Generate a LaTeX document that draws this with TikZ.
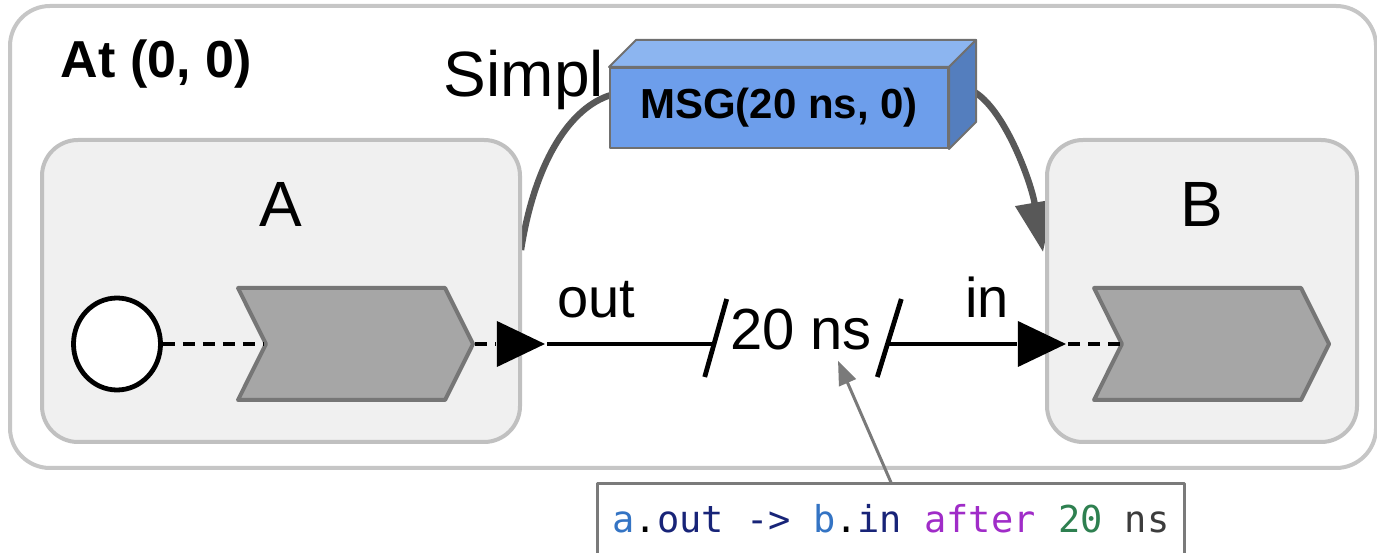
\documentclass[tikz,border=0pt]{standalone}
\usepackage{fontspec}
\setmainfont{Liberation Sans}
\newfontfamily\codefont{DejaVu Sans Mono}
\usetikzlibrary{arrows.meta,calc,shapes.geometric,shapes.symbols}
\definecolor{lfframec}{RGB}{198,198,198}
\definecolor{lfboxc}{RGB}{240,240,240}
\definecolor{lfboxedgec}{RGB}{192,192,192}
\definecolor{lfchevc}{RGB}{166,166,166}
\definecolor{lfchevedgec}{RGB}{118,118,118}
\definecolor{lffrontc}{RGB}{109,158,235}
\definecolor{lftopc}{RGB}{140,181,240}
\definecolor{lfsidec}{RGB}{84,126,190}
\definecolor{lfmsgedgec}{RGB}{112,112,112}
\definecolor{lfflowc}{RGB}{88,88,88}
\definecolor{lfpointerc}{RGB}{122,122,122}
\definecolor{lfidc}{RGB}{52,116,196}
\definecolor{lfportc}{RGB}{24,36,120}
\definecolor{lfkeyc}{RGB}{160,44,200}
\definecolor{lfnumc}{RGB}{46,128,80}
\definecolor{lfunitc}{RGB}{60,60,60}
\pgfdeclarelayer{lfback}
\pgfdeclarelayer{lfflowlayer}
\pgfsetlayers{lfback,lfflowlayer,main}
\tikzset{
  lfbase/.style={x=0.25pt,y=-0.25pt,line join=round},
  lfframe/.style={draw=lfframec,fill=white,line width=1pt,rounded corners=10pt,minimum width=341.5pt,minimum height=115.5pt,inner sep=0pt},
  lfreactor/.style={draw=lfboxedgec,fill=lfboxc,line width=1pt,rounded corners=9pt,minimum width=119.5pt,minimum height=75.5pt,inner sep=0pt},
  lfchev/.style={signal,signal from=west,signal to=east,signal pointer angle=127,fill=lfchevc,draw=lfchevedgec,line width=1pt,minimum width=58.75pt,minimum height=28pt,inner sep=0pt},
  lfstart/.style={ellipse,draw=black,fill=white,line width=1.2pt,minimum width=21.75pt,minimum height=23pt,inner sep=0pt},
  lfport/.style={isosceles triangle,isosceles triangle stretches,fill=black,minimum width=11.5pt,minimum height=12pt,inner sep=0pt},
  lfwire/.style={draw=black,line width=1.2pt},
  lfdash/.style={draw=black,line width=1.2pt,dash pattern=on 3pt off 2pt},
  lfname/.style={font=\fontsize{16}{19}\selectfont,inner sep=0pt},
  lflabel/.style={font=\fontsize{14}{17}\selectfont,inner sep=0pt},
  lfdelay/.style={font=\fontsize{14.5}{17}\selectfont,minimum width=43.75pt,text height=3pt,text depth=0pt,inner sep=0pt},
  lftime/.style={font=\fontsize{13}{16}\selectfont\bfseries,inner sep=0pt},
  lfmsg/.style={fill=lffrontc,draw=lfmsgedgec,line width=0.5pt,minimum width=84.5pt,minimum height=20pt,inner sep=0pt,font=\fontsize{10.5}{13}\selectfont\bfseries},
  lfface/.style={draw=lfmsgedgec,line width=0.5pt},
  lfflow/.style={draw=lfflowc,line width=1.6pt,-{Triangle[length=12.5pt,width=9.5pt]}},
  lfpointer/.style={draw=lfpointerc,line width=0.75pt,-{Triangle[length=6pt,width=4.5pt]}},
  lfcode/.style={draw=lfpointerc,fill=white,line width=0.75pt,minimum width=146.75pt,minimum height=17.5pt,inner sep=0pt,font=\fontsize{9.25}{11}\codefont}
}
\begin{document}
\begin{tikzpicture}[lfbase]
\useasboundingbox (0,0) rectangle (1377,553);
\begin{pgfonlayer}{lfback}
\node[lfframe] (sim) at (693,237) {};
\end{pgfonlayer}
\node[lftime,anchor=base west] (time) at (60,78) {At (0, 0)};
\node[lfname,anchor=base west] (title) at (443,97) {Simpl};
\node[lfreactor] (boxA) at (281,291) {};
\node[lfreactor,minimum width=77.5pt] (boxB) at (1202,291) {};
\node[lfname,anchor=base] (nameA) at ($(boxA.north)+(0,89)$) {A};
\node[lfname,anchor=base] (nameB) at ($(boxB.north)+(0,89)$) {B};
\node[lfstart] (start) at (117,344) {};
\node[lfchev] (chevA) at (355.5,344) {};
\node[lfchev] (chevB) at (1211.5,344) {};
\node[lfport,anchor=apex] (outport) at (547,344) {};
\node[lfport,anchor=apex] (inport) at (1068,344) {};
\node[lfdelay] (delay) at (801,344) {20 ns};
\draw[lfdash] (start.east) -- (chevA.west);
\draw[lfdash] (chevA.east) -- (outport.lower side);
\draw[lfwire] (outport.apex) -- (delay.west);
\draw[lfwire] (delay.east) -- (inport.lower side);
\draw[lfdash] (inport.apex) -- (chevB.west);
\draw[lfwire] ($(delay.west)+(-8,33)$) -- ($(delay.west)+(14,-45)$);
\draw[lfwire] ($(delay.east)+(-12,33)$) -- ($(delay.east)+(12,-45)$);
\node[lflabel,anchor=base] (outlabel) at ($(outport.apex)+(49,-26)$) {out};
\node[lflabel,anchor=base] (inlabel) at ($(inport.lower side)+(-30,-26)$) {in};
\node[lfmsg] (msg) at (779,108) {MSG(20 ns, 0)};
\draw[lfface,fill=lftopc] (msg.north west) -- ++(27,-27) -- ($(msg.north east)+(27,-27)$) -- (msg.north east) -- cycle;
\draw[lfface,fill=lfsidec] (msg.north east) -- ++(27,-27) -- ($(msg.south east)+(27,-27)$) -- (msg.south east) -- cycle;
\begin{pgfonlayer}{lfflowlayer}
\draw[lfflow] ($(boxA.east)+(-1,-41)$) .. controls +(14,-90) and +(-40,12) .. ($(msg.west)+(2,-13)$)
  -- ($(msg.east)+(27,-15)$) .. controls +(30,20) and +(-12,-70) .. ($(boxB.west)+(-2,-39)$);
\end{pgfonlayer}
\node[lfcode] (code) at (891,519) {{\color{lfidc}a}.{\color{lfportc}out} {\color{lfportc}->} {\color{lfidc}b}.{\color{lfportc}in} {\color{lfkeyc}after} {\color{lfnumc}20} {\color{lfunitc}ns}};
\coordinate (delaytip) at ($(delay.south)+(37,10)$);
\draw[lfpointer] (code.north) -- (delaytip);
\end{tikzpicture}
\end{document}
